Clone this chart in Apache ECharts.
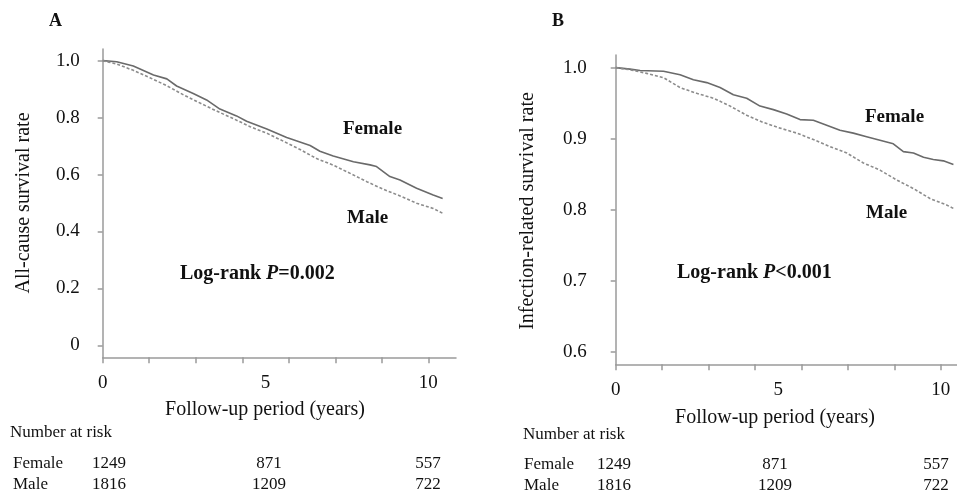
<!DOCTYPE html>
<html>
<head>
<meta charset="utf-8">
<script src="https://cdn.jsdelivr.net/npm/echarts@6/dist/echarts.min.js"></script>
<style>
html,body{margin:0;padding:0;background:#fff;}
#c{width:957px;height:493px;}
</style>
</head>
<body>
<div id="c"></div>
<script>
// ---- data ----
const timeA_female = [0, 0.43, 0.94, 1.56, 1.97, 2.27, 2.78, 3.19, 3.60, 4.11, 4.42, 5.04, 5.65, 6.37, 6.67, 7.08, 7.70, 8.21, 8.41, 8.82, 9.13, 9.64, 10.15, 10.44];
const survA_female = [1.0, 0.996, 0.981, 0.95, 0.936, 0.911, 0.885, 0.862, 0.830, 0.806, 0.787, 0.760, 0.730, 0.702, 0.682, 0.665, 0.645, 0.634, 0.628, 0.593, 0.581, 0.552, 0.528, 0.516];
const timeA_male = [0, 0.43, 0.94, 1.45, 1.97, 2.48, 2.99, 3.50, 4.02, 4.53, 5.04, 5.55, 6.06, 6.57, 7.08, 7.60, 8.11, 8.62, 9.13, 9.64, 10.15, 10.44];
const survA_male = [1.0, 0.988, 0.966, 0.940, 0.912, 0.880, 0.851, 0.823, 0.796, 0.768, 0.745, 0.717, 0.688, 0.656, 0.633, 0.604, 0.575, 0.548, 0.525, 0.499, 0.481, 0.464];

const timeB_female = [0, 0.44, 0.75, 1.47, 1.98, 2.39, 2.80, 3.21, 3.62, 4.03, 4.44, 4.85, 5.26, 5.67, 6.08, 6.49, 6.90, 7.31, 7.72, 8.13, 8.54, 8.85, 9.16, 9.47, 9.77, 10.08, 10.39];
const survB_female = [1.0, 0.998, 0.996, 0.995, 0.990, 0.983, 0.979, 0.972, 0.962, 0.957, 0.946, 0.941, 0.935, 0.927, 0.926, 0.919, 0.912, 0.908, 0.903, 0.898, 0.893, 0.882, 0.880, 0.874, 0.871, 0.869, 0.864];
const timeB_male = [0, 0.44, 0.95, 1.47, 1.98, 2.49, 3.01, 3.52, 4.03, 4.54, 5.06, 5.57, 6.08, 6.59, 7.11, 7.62, 8.13, 8.65, 9.16, 9.67, 10.18, 10.44];
const survB_male = [1.0, 0.997, 0.992, 0.986, 0.972, 0.964, 0.957, 0.946, 0.933, 0.923, 0.915, 0.908, 0.899, 0.889, 0.880, 0.866, 0.856, 0.842, 0.830, 0.816, 0.807, 0.801];

const xTickValues = [0, 10/7, 20/7, 30/7, 40/7, 50/7, 60/7, 10];
const xLabelValues = [0, 5, 10];
const yTicksA = [0, 0.2, 0.4, 0.6, 0.8, 1.0];
const yTicksB = [0.6, 0.7, 0.8, 0.9, 1.0];

const riskGroups = ['Female', 'Male'];
const riskFemale = [1249, 871, 557];
const riskMale = [1816, 1209, 722];

// ---- chart ----
const FONT = '"Liberation Serif", "Times New Roman", serif';
const AXIS_COLOR = '#9a9a9a';
const zip = (t, s) => t.map((v, i) => [v, s[i]]);

function xAxisCfg(grid, max) {
  return {
    gridIndex: grid, type: 'value', min: 0, max: max,
    axisLine: { onZero: false, lineStyle: { color: AXIS_COLOR, width: 1.5 } },
    axisTick: { show: true, customValues: xTickValues, length: 6, lineStyle: { color: AXIS_COLOR, width: 1.5 } },
    axisLabel: { customValues: xLabelValues, margin: 16, color: '#111', fontFamily: FONT, fontSize: 19,
      formatter: v => String(Math.round(v)) },
    splitLine: { show: false }
  };
}
function yAxisCfg(grid, min, max, ticks, margin) {
  return {
    gridIndex: grid, type: 'value', min: min, max: max,
    axisLine: { onZero: false, lineStyle: { color: AXIS_COLOR, width: 1.5 } },
    axisTick: { show: true, customValues: ticks, length: 5, lineStyle: { color: AXIS_COLOR, width: 1.5 } },
    axisLabel: { customValues: ticks, margin: margin, color: '#111', fontFamily: FONT, fontSize: 19,
      formatter: v => (Math.abs(v) < 1e-9 ? '0' : v.toFixed(1)) },
    splitLine: { show: false }
  };
}
function lineSeries(xi, yi, data, dashed) {
  return {
    type: 'line', xAxisIndex: xi, yAxisIndex: yi, data: data, showSymbol: false, symbol: 'none',
    smooth: false, animation: false,
    lineStyle: dashed ? { color: '#8c8c8c', width: 1.6, type: [3, 2] } : { color: '#6a6a6a', width: 1.6 }
  };
}

function txt(text, x, y, size, opts) {
  opts = opts || {};
  return {
    type: 'text', x: x, y: y, rotation: opts.rot || 0, silent: true,
    style: {
      text: text, fill: '#111',
      font: (opts.bold ? 'bold ' : '') + size + 'px ' + FONT,
      textAlign: opts.align || 'left', textVerticalAlign: 'middle'
    }
  };
}
function logRank(label, x, y) {
  return {
    type: 'text', x: x, y: y, silent: true,
    style: {
      text: '{b|Log-rank }{i|P}{b|' + label + '}',
      textVerticalAlign: 'middle', textAlign: 'left',
      rich: {
        b: { fontFamily: FONT, fontWeight: 'bold', fontSize: 20, fill: '#111' },
        i: { fontFamily: FONT, fontWeight: 'bold', fontStyle: 'italic', fontSize: 20, fill: '#111' }
      }
    }
  };
}

const graphics = [
  txt('A', 49, 21, 18, { bold: true }),
  txt('B', 552, 21, 18, { bold: true }),
  txt('All-cause survival rate', 24, 203, 20, { rot: Math.PI / 2, align: 'center' }),
  txt('Infection-related survival rate', 528, 211, 20, { rot: Math.PI / 2, align: 'center' }),
  txt('Follow-up period (years)', 265, 410, 20, { align: 'center' }),
  txt('Follow-up period (years)', 775, 418, 20, { align: 'center' }),
  txt('Female', 343, 129, 19, { bold: true }),
  txt('Male', 347, 218, 19, { bold: true }),
  txt('Female', 865, 117, 19, { bold: true }),
  txt('Male', 866, 213, 19, { bold: true }),
  logRank('=0.002', 180, 274),
  logRank('<0.001', 677, 273),
  txt('Number at risk', 10, 433, 17),
  txt('Number at risk', 523, 435, 17)
];
// risk table
const riskRowsY_A = [464, 485];
const riskRowsY_B = [465, 486];
const riskColsA = [109, 269, 428];
const riskColsB = [614, 775, 936];
[riskFemale, riskMale].forEach((row, r) => {
  graphics.push(txt(riskGroups[r], 13, riskRowsY_A[r], 17));
  graphics.push(txt(riskGroups[r], 524, riskRowsY_B[r], 17));
  row.forEach((v, c) => {
    graphics.push(txt(String(v), riskColsA[c], riskRowsY_A[r], 17, { align: 'center' }));
    graphics.push(txt(String(v), riskColsB[c], riskRowsY_B[r], 17, { align: 'center' }));
  });
});

const chart = echarts.init(document.getElementById('c'), null, { renderer: 'canvas' });
chart.setOption({
  animation: false,
  backgroundColor: '#fff',
  grid: [
    { left: 102.7, top: 49, width: 353.3, height: 308.3 },
    { left: 615.7, top: 55, width: 341.3, height: 309.3 }
  ],
  xAxis: [xAxisCfg(0, 10.85), xAxisCfg(1, 10.5)],
  yAxis: [yAxisCfg(0, -0.042, 1.041, yTicksA, 23), yAxisCfg(1, 0.583, 1.0178, yTicksB, 29)],
  series: [
    lineSeries(0, 0, zip(timeA_female, survA_female), false),
    lineSeries(0, 0, zip(timeA_male, survA_male), true),
    lineSeries(1, 1, zip(timeB_female, survB_female), false),
    lineSeries(1, 1, zip(timeB_male, survB_male), true)
  ],
  graphic: graphics
});
</script>
</body>
</html>
